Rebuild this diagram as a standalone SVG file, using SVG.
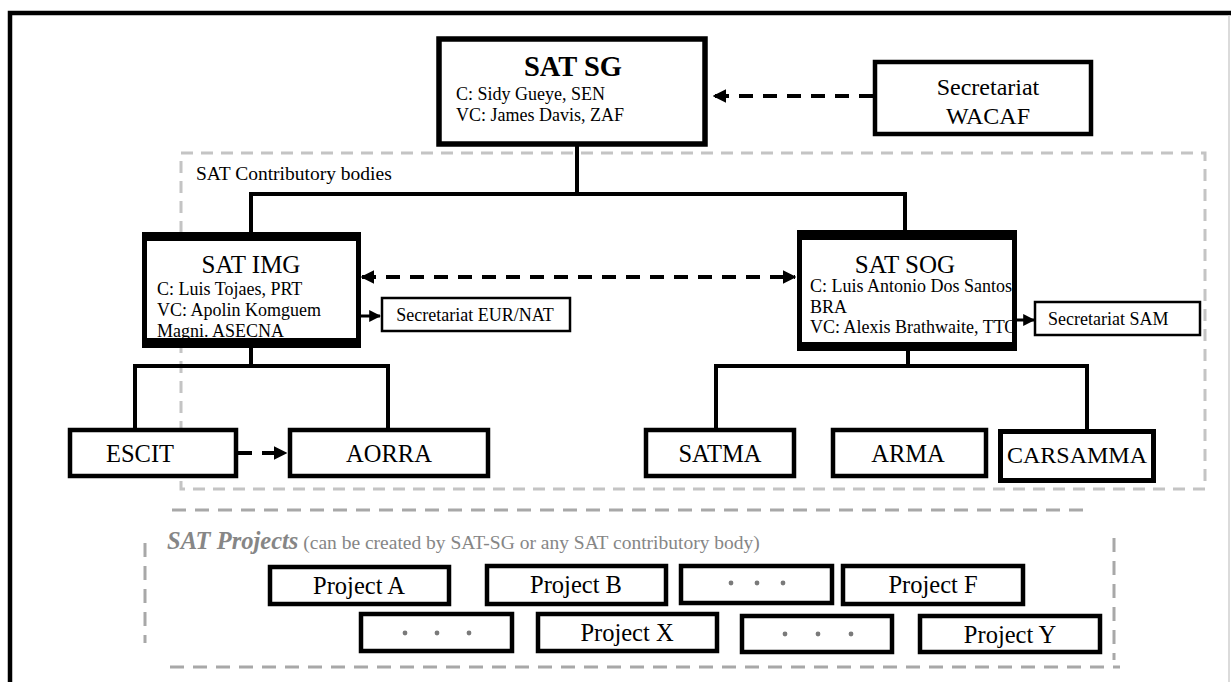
<svg xmlns="http://www.w3.org/2000/svg" width="1231" height="682" viewBox="0 0 1231 682">
<defs>
<style>
text{font-family:"Liberation Serif","Times New Roman",serif;fill:#000}
.box{fill:#fff;stroke:#000}
.thick{stroke-width:5.5}
.mid{stroke-width:4.5}
.thin{stroke-width:2.5}
.bar{fill:#000}
.line{fill:none;stroke:#000;stroke-width:4}
.dash{fill:none;stroke:#000;stroke-width:4;stroke-dasharray:14 10}
.gdash{fill:none;stroke:#c4c4c4;stroke-width:3;stroke-dasharray:12 8}
.pdash{fill:none;stroke:#a8a8a8;stroke-width:3;stroke-dasharray:14 9}
.big{font-size:24.5px}
.t18{font-size:18px}
.dots{fill:#7a7a7a}
</style>
<marker id="ah" viewBox="0 0 10 10" refX="9" refY="5" markerWidth="3.4" markerHeight="3.4" orient="auto-start-reverse" markerUnits="strokeWidth">
<path d="M0,0 L10,5 L0,10 z" fill="#000"/>
</marker>
<marker id="ahs" viewBox="0 0 10 10" refX="9" refY="5" markerWidth="4" markerHeight="4" orient="auto" markerUnits="strokeWidth">
<path d="M0,0 L10,5 L0,10 z" fill="#000"/>
</marker>
</defs>
<rect width="1231" height="682" fill="#fff"/>
<path d="M10,700 V13 H1231" fill="none" stroke="#000" stroke-width="4.5"/>
<line x1="1229" y1="15" x2="1229" y2="682" stroke="#cfcfcf" stroke-width="1.5"/>

<g id="regions">
<rect class="gdash" x="181" y="153" width="1024" height="336"/>
<text x="196" y="180" style="font-size:19.5px">SAT Contributory bodies</text>
<path class="pdash" d="M172,510 H1085"/>
<path class="pdash" d="M145,543 V643"/>
<path class="pdash" d="M1114,538 V660"/>
<path class="pdash" d="M170,667 H1120"/>
<text x="167" y="549" style="fill:#868686"><tspan style="font-weight:bold;font-style:italic;font-size:24.5px;fill:#868686">SAT Projects</tspan><tspan style="font-size:19.5px;fill:#868686"> (can be created by SAT-SG or any SAT contributory body)</tspan></text>
</g>

<g id="connectors">
<path class="line" d="M577,146 V194 M251,232 V194 H905 V230"/>
<path class="line" d="M251,348 V366 M135,428 V366 H388 V428"/>
<path class="line" d="M908,351 V366 M716,428 V366 H1087 V429"/>
<path class="dash" d="M873,96 H714" marker-end="url(#ah)"/>
<path class="dash" d="M362,277 H795" marker-start="url(#ah)" marker-end="url(#ah)"/>
<path class="dash" d="M238,453 H286" marker-end="url(#ah)"/>
<path d="M361,316 H380" fill="none" stroke="#000" stroke-width="3" marker-end="url(#ahs)"/>
<path d="M1017,320 H1034" fill="none" stroke="#000" stroke-width="3" marker-end="url(#ahs)"/>
</g>

<g id="sat-sg">
<rect class="box thick" x="439" y="39" width="266" height="105"/>
<text x="573" y="76" text-anchor="middle" style="font-size:28.5px;font-weight:bold">SAT SG</text>
<text class="t18" x="456" y="100">C: Sidy Gueye, SEN</text>
<text class="t18" x="456" y="121">VC: James Davis, ZAF</text>
</g>

<g id="wacaf">
<rect class="box mid" x="875" y="62" width="216" height="72"/>
<text x="988" y="95" text-anchor="middle" style="font-size:24px">Secretariat</text>
<text x="988" y="124" text-anchor="middle" style="font-size:24px">WACAF</text>
</g>

<g id="sat-img">
<rect class="box" x="144.5" y="236" width="214" height="108" stroke-width="5"/>
<rect class="bar" x="142" y="232" width="219" height="9"/>
<text x="251" y="273" text-anchor="middle" style="font-size:25px">SAT IMG</text>
<text class="t18" x="157" y="295">C: Luis Tojaes, PRT</text>
<text class="t18" x="157" y="316">VC: Apolin Komguem</text>
<text class="t18" x="157" y="337">Magni. ASECNA</text>
<rect class="bar" x="142" y="338" width="219" height="10"/>
</g>

<g id="sec-eurnat">
<rect class="box thin" x="382" y="298" width="188" height="33"/>
<text class="t18" x="475" y="321" text-anchor="middle">Secretariat EUR/NAT</text>
</g>

<g id="sat-sog">
<rect class="box" x="799.5" y="235" width="215" height="111" stroke-width="5"/>
<rect class="bar" x="797" y="230" width="220" height="10"/>
<text x="905" y="273" text-anchor="middle" style="font-size:25px">SAT SOG</text>
<text class="t18" x="810" y="292">C: Luis Antonio Dos Santos,</text>
<text class="t18" x="810" y="313">BRA</text>
<text class="t18" x="810" y="333">VC: Alexis Brathwaite, TTO</text>
<rect class="bar" x="797" y="342" width="220" height="9"/>
</g>

<g id="sec-sam">
<rect class="box thin" x="1035" y="302" width="165" height="33"/>
<text class="t18" x="1048" y="325">Secretariat SAM</text>
</g>

<g id="escit">
<rect class="box mid" x="70" y="430" width="166" height="46"/>
<text class="big" x="140" y="462" text-anchor="middle">ESCIT</text>
</g>
<g id="aorra">
<rect class="box mid" x="290" y="430" width="198" height="46"/>
<text class="big" x="389" y="462" text-anchor="middle">AORRA</text>
</g>
<g id="satma">
<rect class="box mid" x="646" y="430" width="148" height="46"/>
<text class="big" x="720" y="462" text-anchor="middle">SATMA</text>
</g>
<g id="arma">
<rect class="box mid" x="833" y="430" width="153" height="46"/>
<text class="big" x="908" y="462" text-anchor="middle">ARMA</text>
</g>
<g id="carsamma">
<rect class="box" x="1000.5" y="431.5" width="153" height="49" stroke-width="5"/>
<text x="1077" y="463" text-anchor="middle" style="font-size:24px">CARSAMMA</text>
</g>

<g id="project-a">
<rect class="box mid" x="270" y="567" width="179" height="37"/>
<text class="big" x="359" y="594" text-anchor="middle">Project A</text>
</g>
<g id="project-b">
<rect class="box mid" x="487" y="566" width="179" height="38"/>
<text class="big" x="576" y="593" text-anchor="middle">Project B</text>
</g>
<g id="dots-1">
<rect class="box mid" x="681" y="566" width="151" height="37"/>
<circle class="dots" cx="731" cy="583" r="2.4"/><circle class="dots" cx="757" cy="583" r="2.4"/><circle class="dots" cx="783" cy="583" r="2.4"/>
</g>
<g id="project-f">
<rect class="box mid" x="843" y="566" width="180" height="38"/>
<text class="big" x="933" y="593" text-anchor="middle">Project F</text>
</g>
<g id="dots-2">
<rect class="box mid" x="361" y="614" width="151" height="37"/>
<circle class="dots" cx="405" cy="633" r="2.4"/><circle class="dots" cx="437" cy="633" r="2.4"/><circle class="dots" cx="469" cy="633" r="2.4"/>
</g>
<g id="project-x">
<rect class="box mid" x="538" y="614" width="179" height="37"/>
<text class="big" x="627" y="641" text-anchor="middle">Project X</text>
</g>
<g id="dots-3">
<rect class="box mid" x="742" y="616" width="150" height="36"/>
<circle class="dots" cx="785" cy="634" r="2.4"/><circle class="dots" cx="818" cy="634" r="2.4"/><circle class="dots" cx="851" cy="634" r="2.4"/>
</g>
<g id="project-y">
<rect class="box mid" x="920" y="616" width="180" height="36"/>
<text class="big" x="1010" y="643" text-anchor="middle">Project Y</text>
</g>
</svg>
